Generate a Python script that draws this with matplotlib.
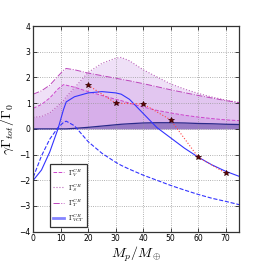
import numpy as np
import matplotlib
matplotlib.use('Agg')
import matplotlib.pyplot as plt

# planet mass grid (Earth masses) at which the curves were read
mass = [0, 3, 6, 9, 11, 12, 15, 20, 25, 30, 32, 35, 40, 45, 50, 55, 60, 65, 70, 75]

# Gamma_V (dashed magenta)
gamma_v = [0.80, 0.95, 1.20, 1.55, 1.72, 1.70, 1.62, 1.45, 1.30, 1.15, 1.10, 1.00, 0.85, 0.72, 0.62, 0.53, 0.46, 0.40, 0.35, 0.32]
# Gamma_S (dotted)
gamma_s = [0.45, 0.48, 0.62, 0.90, 1.10, 1.25, 1.60, 2.20, 2.55, 2.75, 2.78, 2.65, 2.30, 2.02, 1.75, 1.55, 1.38, 1.24, 1.12, 1.02]
# Gamma_T (dash-dot)
gamma_t = [1.35, 1.48, 1.70, 2.05, 2.28, 2.35, 2.30, 2.17, 2.07, 1.97, 1.93, 1.87, 1.76, 1.64, 1.52, 1.41, 1.30, 1.20, 1.10, 1.02]
# dark lower curve
gamma_low = [0.0, 0.0, 0.0, 0.0, 0.0, 0.0, 0.02, 0.06, 0.11, 0.16, 0.18, 0.20, 0.23, 0.24, 0.24, 0.23, 0.21, 0.20, 0.18, 0.17]
# Gamma_VCT (solid blue)
gamma_vct = [-2.0, -1.6, -0.9, 0.0, 0.75, 1.05, 1.25, 1.40, 1.45, 1.40, 1.35, 1.15, 0.60, 0.05, -0.35, -0.75, -1.10, -1.40, -1.65, -1.85]
# blue dashed
gamma_dash = [-1.88, -1.05, -0.40, 0.05, 0.25, 0.30, 0.12, -0.50, -0.95, -1.30, -1.42, -1.57, -1.80, -2.00, -2.20, -2.38, -2.55, -2.70, -2.82, -2.95]

# simulation points
sim_mass = [20, 30, 40, 50, 60, 70]
sim_gamma = [1.70, 1.00, 0.97, 0.35, -1.10, -1.72]

plt.rcParams['mathtext.fontset'] = 'cm'
fig = plt.figure(figsize=(2.66, 2.66), dpi=100)
ax = fig.add_axes([0.125, 0.129, 0.775, 0.773])

fill_c = '#9932cc'
ax.fill_between(mass, 0, gamma_s, color=fill_c, alpha=0.15, lw=0)
ax.fill_between(mass, 0, gamma_t, color=fill_c, alpha=0.15, lw=0)
ax.fill_between(mass, 0, gamma_v, color=fill_c, alpha=0.15, lw=0)
ax.fill_between(mass, 0, gamma_low, color='#4a3a98', alpha=0.45, lw=0)

ax.plot(mass, gamma_v, '--', color='#cc44cc', lw=0.7, label=r'$\Gamma_V^{CR}$')
ax.plot(mass, gamma_s, ':', color='#bb66bb', lw=0.8, label=r'$\Gamma_S^{CR}$')
ax.plot(mass, gamma_t, '-.', color='#bb44bb', lw=0.7, label=r'$\Gamma_T^{CR}$')
ax.plot(mass, gamma_low, '-', color='#2a2a8a', lw=0.9)
ax.plot(mass, gamma_vct, '-', color='#3333ff', lw=0.8)
ax.plot(mass, gamma_dash, '--', color='#3333ff', lw=0.8)
ax.plot([], [], '-', color='#3333ff', lw=2, alpha=0.6, label=r'$\Gamma_{VCT}^{CR}$')

ax.plot(sim_mass, sim_gamma, ':', color='#ff4444', lw=0.8)
ax.plot(sim_mass, sim_gamma, '*', color='#660000', ms=4, mec='#330000', mew=0.5)

ax.set_xlim(0, 75)
ax.set_ylim(-4, 4)
ax.set_xticks(range(0, 71, 10))
ax.set_yticks(range(-4, 5))
ax.grid(True, ls=':', color='#999999', lw=0.6)
ax.tick_params(labelsize=5.5, direction='in', top=True, right=True, length=3, width=0.5, pad=2)
for sp in ax.spines.values():
    sp.set_linewidth(0.9)
    sp.set_color('#333333')

ax.set_xlabel(r'$M_p/M_\oplus$', fontsize=10, labelpad=1)
ax.set_ylabel(r'$\gamma\Gamma_{tot}/\Gamma_0$', fontsize=10, labelpad=2)

leg = ax.legend(loc='lower left', bbox_to_anchor=(0.065, 0.008), fontsize=5,
                fancybox=False, framealpha=1, handlelength=1.6, handletextpad=0.6,
                labelspacing=0.45, borderpad=0.4)
leg.get_frame().set_edgecolor('#333333')
leg.get_frame().set_linewidth(0.9)

fig.savefig('out.png', dpi=100)
